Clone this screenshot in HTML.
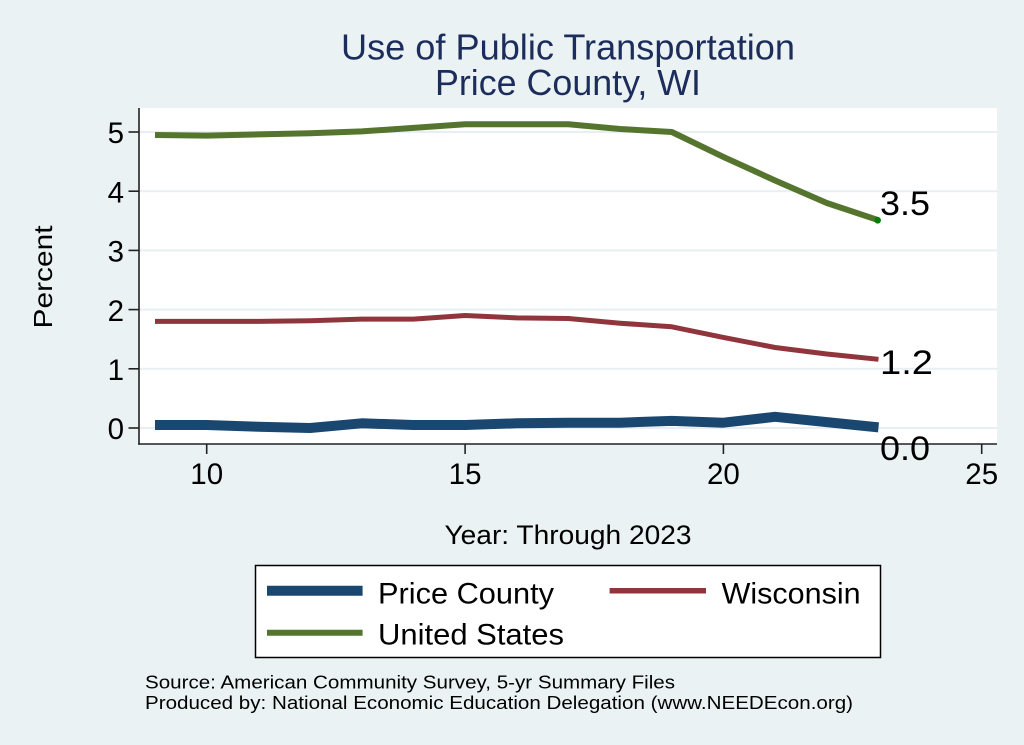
<!DOCTYPE html>
<html><head><meta charset="utf-8"><style>
html,body{margin:0;padding:0;background:#eaf2f3;}
svg{display:block;font-family:"Liberation Sans",Arial,sans-serif;}
</style></head><body>
<svg width="1024" height="745" viewBox="0 0 1024 745" xmlns="http://www.w3.org/2000/svg">
<rect x="0" y="0" width="1024" height="745" fill="#eaf2f3"/>
<!-- title -->
<text x="568" y="59.5" font-size="36" fill="#1c2d5c" text-anchor="middle" textLength="454" lengthAdjust="spacingAndGlyphs">Use of Public Transportation</text>
<text x="568" y="95" font-size="36" fill="#1c2d5c" text-anchor="middle" textLength="266" lengthAdjust="spacingAndGlyphs">Price County, WI</text>
<!-- plot area -->
<rect x="139" y="108" width="858" height="336" fill="#ffffff"/>
<g stroke="#e8eff2" stroke-width="2">
<line x1="139" y1="132" x2="997" y2="132"/>
<line x1="139" y1="191.2" x2="997" y2="191.2"/>
<line x1="139" y1="250.4" x2="997" y2="250.4"/>
<line x1="139" y1="309.6" x2="997" y2="309.6"/>
<line x1="139" y1="368.8" x2="997" y2="368.8"/>
<line x1="139" y1="428" x2="997" y2="428"/>
</g>
<!-- axes -->
<g stroke="#222" stroke-width="1.6" fill="none">
<line x1="139" y1="108" x2="139" y2="444.8"/>
<line x1="138.2" y1="444" x2="997" y2="444"/>
<line x1="128.5" y1="132" x2="139" y2="132"/>
<line x1="128.5" y1="191.2" x2="139" y2="191.2"/>
<line x1="128.5" y1="250.4" x2="139" y2="250.4"/>
<line x1="128.5" y1="309.6" x2="139" y2="309.6"/>
<line x1="128.5" y1="368.8" x2="139" y2="368.8"/>
<line x1="128.5" y1="428" x2="139" y2="428"/>
<line x1="206.7" y1="444" x2="206.7" y2="454"/>
<line x1="465.1" y1="444" x2="465.1" y2="454"/>
<line x1="723.4" y1="444" x2="723.4" y2="454"/>
<line x1="981.7" y1="444" x2="981.7" y2="454"/>
</g>
<g font-size="29.5" fill="#000" text-anchor="end">
<text x="124" y="143.2">5</text>
<text x="124" y="202.4">4</text>
<text x="124" y="261.6">3</text>
<text x="124" y="320.8">2</text>
<text x="124" y="380">1</text>
<text x="124" y="439.2">0</text>
</g>
<g font-size="29.5" fill="#000" text-anchor="middle">
<text x="206.7" y="484">10</text>
<text x="465.1" y="484">15</text>
<text x="723.4" y="484">20</text>
<text x="981.7" y="484">25</text>
</g>
<text transform="translate(52,277) rotate(-90)" font-size="26" fill="#000" text-anchor="middle" textLength="103" lengthAdjust="spacingAndGlyphs">Percent</text>
<text x="568" y="544" font-size="27" fill="#000" text-anchor="middle" textLength="247" lengthAdjust="spacingAndGlyphs">Year: Through 2023</text>
<!-- series -->
<polyline fill="none" stroke="#55752f" stroke-width="6" stroke-linejoin="round" points="155,135 206.7,135.6 258.4,134.4 310,133.2 361.7,131.4 413.4,127.9 465.1,124.3 516.8,124.3 568.4,124.3 620.1,129 671.8,132 723.4,156.9 775.1,180.5 826.8,203 878.5,220.2"/>
<polyline fill="none" stroke="#90353b" stroke-width="5" stroke-linejoin="round" points="155,321.4 206.7,321.4 258.4,321.4 310,320.8 361.7,319.1 413.4,319.1 465.1,315.5 516.8,317.9 568.4,318.5 620.1,323.2 671.8,326.8 723.4,337.4 775.1,347.5 826.8,354 878.5,359.3"/>
<polyline fill="none" stroke="#1a476f" stroke-width="10" stroke-linejoin="round" points="155,425 206.7,425 258.4,426.8 310,428 361.7,423.3 413.4,425 465.1,425 516.8,423.3 568.4,422.7 620.1,422.7 671.8,420.9 723.4,422.7 775.1,416.8 826.8,422.1 878.5,427.4"/>
<circle cx="877.7" cy="220.3" r="3.3" fill="#008000"/>
<g font-size="34" fill="#000">
<text x="880" y="215" textLength="50" lengthAdjust="spacingAndGlyphs">3.5</text>
<text x="880" y="374" textLength="53" lengthAdjust="spacingAndGlyphs">1.2</text>
<text x="880" y="460" textLength="50" lengthAdjust="spacingAndGlyphs">0.0</text>
</g>
<!-- legend -->
<rect x="255.5" y="565.5" width="625" height="92" fill="#ffffff" stroke="#000" stroke-width="1.5"/>
<line x1="267" y1="590.7" x2="362.6" y2="590.7" stroke="#1a476f" stroke-width="10"/>
<line x1="609.6" y1="590.7" x2="706" y2="590.7" stroke="#90353b" stroke-width="5.5"/>
<line x1="267" y1="632.7" x2="362.6" y2="632.7" stroke="#55752f" stroke-width="6"/>
<g font-size="30" fill="#000">
<text x="378" y="603.5" textLength="176" lengthAdjust="spacingAndGlyphs">Price County</text>
<text x="721.6" y="603.5" textLength="139" lengthAdjust="spacingAndGlyphs">Wisconsin</text>
<text x="378" y="644.5" textLength="186" lengthAdjust="spacingAndGlyphs">United States</text>
</g>
<!-- footer -->
<g font-size="18" fill="#000">
<text x="145" y="688.3" textLength="530" lengthAdjust="spacingAndGlyphs">Source: American Community Survey, 5-yr Summary Files</text>
<text x="145" y="709" textLength="708" lengthAdjust="spacingAndGlyphs">Produced by: National Economic Education Delegation (www.NEEDEcon.org)</text>
</g>
</svg>
</body></html>
